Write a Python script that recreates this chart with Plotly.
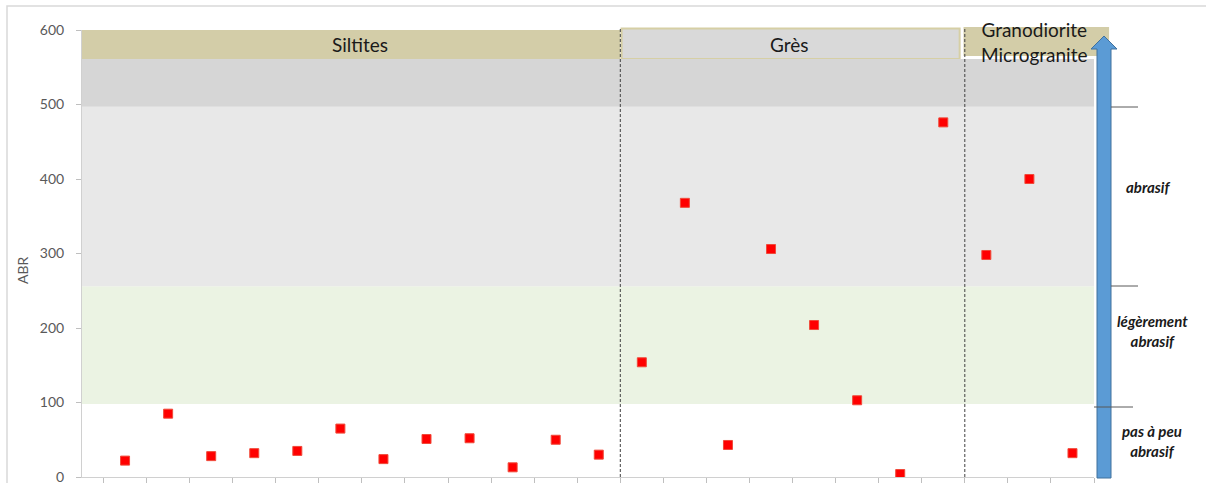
import plotly.graph_objects as go

# ABR values, grouped by rock type
siltites = [22, 85, 28, 32, 35, 65, 24, 51, 52, 13, 50, 30]
gres = [154, 368, 43, 306, 204, 103, 4, 476]
granodiorite = [298, 400, 32]

group_names = ["Siltites", "Grès", "Granodiorite<br>Microgranite"]
y_ticks = [0, 100, 200, 300, 400, 500, 600]

# abrasivity classes (lower, upper) in ABR
class_bands = [
    (98, 256, "#ebf3e3"),
    (256, 497, "#e8e8e8"),
    (497, 561, "#d6d6d6"),
]
class_labels = ["pas à peu<br>abrasif", "légèrement<br>abrasif", "abrasif"]

values = siltites + gres + granodiorite
xs = list(range(1, len(values) + 1))
n1 = len(siltites)
n2 = n1 + len(gres)
n_all = len(values)
x_max = n_all + 0.5
y_max = 600

W, H = 1206, 483
L, R, T, B = 82, 112, 30, 6
pw = W - L - R
ph = H - T - B
FONT = "Lato, Open Sans, sans-serif"


def px(xp):
    return (xp - L) / pw


def py(yp):
    return (H - B - yp) / ph


def dx(xv):
    # data x -> paper x
    return xv / x_max


def dy(yv):
    return yv / y_max


fig = go.Figure()
fig.add_trace(go.Scatter(
    x=xs, y=values, mode="markers",
    marker=dict(symbol="square", size=9, color="#ff0000",
                line=dict(width=1, color="#f04a3a")),
    showlegend=False, hoverinfo="y",
))

shapes = []
# chart outer border
shapes.append(dict(type="rect", xref="paper", yref="paper",
                   x0=px(7), x1=px(1215), y0=py(6), y1=py(495),
                   line=dict(color="#d9d9d9", width=1.5), layer="below"))
# background bands
for lo, hi, col in class_bands:
    shapes.append(dict(type="rect", xref="x", yref="y", x0=0, x1=x_max,
                       y0=lo, y1=hi, fillcolor=col, line=dict(width=0),
                       layer="below"))
# group headers
shapes.append(dict(type="rect", xref="paper", yref="paper", x0=0, x1=dx(n1 + 0.5),
                   y0=dy(561), y1=dy(600), fillcolor="#d3cda8", line=dict(width=0),
                   layer="below"))
shapes.append(dict(type="rect", xref="paper", yref="paper",
                   x0=dx(n1 + 0.53), x1=dx(n2 + 0.38),
                   y0=dy(561), y1=dy(602), fillcolor="#d9d9d9",
                   line=dict(color="#d6cfa5", width=2), layer="below"))
shapes.append(dict(type="rect", xref="paper", yref="paper",
                   x0=dx(n2 + 0.47), x1=dx(n_all + 0.85),
                   y0=dy(565), y1=dy(604), fillcolor="#d3cda8", line=dict(width=0),
                   layer="below"))
# group separators
for xv in [n1 + 0.5, n2 + 0.5]:
    shapes.append(dict(type="line", xref="paper", yref="paper", x0=dx(xv), x1=dx(xv),
                       y0=0, y1=dy(602),
                       line=dict(color="#404040", width=1, dash="3px,2px")))
# blue arrow
ax0, ax1, tip_y, base_y = 1097, 1111, 36, 49
shapes.append(dict(type="path", xref="paper", yref="paper",
                   path=(f"M {px(ax0)},{py(478)} L {px(ax0)},{py(base_y)} "
                         f"L {px(1091)},{py(base_y)} L {px(1104)},{py(tip_y)} "
                         f"L {px(1117)},{py(base_y)} L {px(ax1)},{py(base_y)} "
                         f"L {px(ax1)},{py(478)} Z"),
                   fillcolor="#5b9bd5", line=dict(color="#41719c", width=1)))
# class limits next to the arrow
for yp, x0p, x1p in [(107, 1111, 1138), (286, 1111, 1138), (407, 1094, 1133)]:
    shapes.append(dict(type="line", xref="paper", yref="paper",
                       x0=px(x0p), x1=px(x1p), y0=py(yp), y1=py(yp),
                       line=dict(color="#595959", width=1)))

annotations = []
head_font = dict(family=FONT, size=19, color="#1a1a1a")
annotations.append(dict(text=group_names[0], x=px(360), y=py(45),
                        xref="paper", yref="paper", showarrow=False, font=head_font,
                        xanchor="center", yanchor="middle"))
annotations.append(dict(text=group_names[1], x=px(789), y=py(45),
                        xref="paper", yref="paper", showarrow=False, font=head_font,
                        xanchor="center", yanchor="middle"))
annotations.append(dict(text=group_names[2], xref="paper", yref="paper",
                        x=px(1034), y=py(42), showarrow=False, font=head_font,
                        xanchor="center", yanchor="middle"))
lab_font = dict(family=FONT, size=15, color="#1a1a1a")
for txt, xp, yp in zip(class_labels, [1152, 1152, 1148], [441, 331, 187]):
    annotations.append(dict(text=f"<b><i>{txt}</i></b>", xref="paper",
                            yref="paper", x=px(xp), y=py(yp), showarrow=False,
                            font=lab_font, xanchor="center", yanchor="middle"))
annotations.append(dict(text="ABR", xref="paper", yref="paper", x=px(22),
                        y=py(270), textangle=-90, showarrow=False,
                        xanchor="center", yanchor="middle",
                        font=dict(family=FONT, size=14, color="#595959")))

fig.update_layout(
    width=W, height=H,
    margin=dict(l=L, r=R, t=T, b=B, autoexpand=False),
    paper_bgcolor="white", plot_bgcolor="white",
    shapes=shapes, annotations=annotations,
    xaxis=dict(range=[0, x_max], showgrid=False, zeroline=False,
               tickvals=[i + 0.5 for i in range(n_all + 1)], showticklabels=False,
               ticks="outside", ticklen=6, tickcolor="#bfbfbf",
               showline=True, linecolor="#d0d0d0", linewidth=1),
    yaxis=dict(range=[0, y_max], tickvals=y_ticks, showgrid=False, zeroline=False,
               ticks="outside", ticklen=5, tickcolor="#bfbfbf",
               showline=True, linecolor="#d0d0d0", linewidth=1,
               ticklabelstandoff=9, ticklabeloverflow="allow",
               tickfont=dict(family=FONT, size=14, color="#595959")),
)

fig.write_html("out.html", config={"displayModeBar": False},
               post_script="document.body.style.margin='0';")
